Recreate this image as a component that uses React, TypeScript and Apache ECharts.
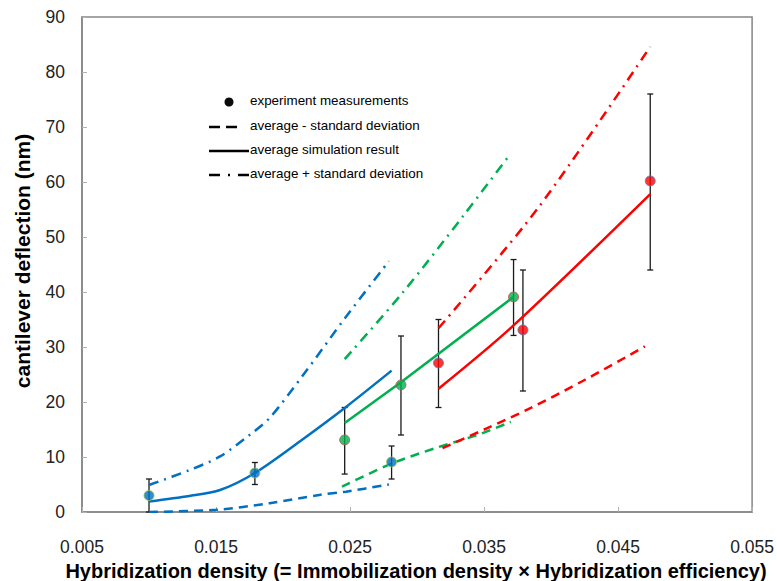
import React, { useEffect, useRef } from "react";
import * as echarts from "echarts";

// ---- data ----
const xTicks = [0.005, 0.015, 0.025, 0.035, 0.045, 0.055];

// experiment measurements: [x, mean, low, high]
const bluePoints = [
  [0.0100, 3.0, 0.0, 6.0],
  [0.0179, 7.1, 5.0, 9.0],
  [0.0281, 9.1, 6.0, 12.0],
];
const greenPoints = [
  [0.0246, 13.1, 6.9, 19.0],
  [0.0288, 23.1, 14.0, 32.0],
  [0.0372, 39.1, 32.1, 45.9],
];
const redPoints = [
  [0.0316, 27.1, 19.0, 35.0],
  [0.0379, 33.1, 22.0, 44.0],
  [0.0474, 60.2, 44.0, 76.0],
];

// simulation curves
const blueMinus = [[0.0100, 0.0], [0.0150, 0.4], [0.0190, 1.6], [0.0227, 3.1], [0.0247, 3.7], [0.0279, 5.0]];
const blueMean = [[0.0100, 1.9], [0.0130, 2.9], [0.0153, 4.0], [0.0179, 7.1], [0.0214, 13.1], [0.0247, 19.1], [0.0281, 25.7]];
const bluePlus = [[0.0100, 4.9], [0.0130, 7.6], [0.0153, 10.1], [0.0175, 14.0], [0.0190, 17.1], [0.0215, 24.9], [0.0247, 35.5], [0.0279, 45.6]];

const greenMinus = [[0.0244, 4.6], [0.0281, 8.8], [0.0316, 11.8], [0.0345, 14.0], [0.0370, 16.4]];
const greenMean = [[0.0246, 16.2], [0.0288, 23.6], [0.0372, 39.1]];
const greenPlus = [[0.0246, 27.8], [0.0289, 39.8], [0.0335, 54.0], [0.0369, 64.9]];

const redMinus = [[0.0319, 11.6], [0.0352, 15.2], [0.0383, 18.7], [0.0425, 24.0], [0.0470, 30.1]];
const redMean = [[0.0316, 22.4], [0.0371, 33.7], [0.0474, 57.8]];
const redPlus = [[0.0316, 33.4], [0.0391, 55.5], [0.0474, 84.6]];

const BLUE = "#0070C0";
const GREEN = "#00B050";
const RED = "#FF0000";
const DASH = [9, 6];
const DASHDOT = [10, 6, 2, 6];

const NARROW = "'Liberation Sans Narrow', 'Liberation Sans', Arial, sans-serif";
const REG = "'Liberation Sans', Arial, sans-serif";

function lineSeries(data: number[][], color: string, type: any, smooth: number) {
  return {
    type: "line",
    data,
    showSymbol: false,
    symbol: "none",
    smooth,
    lineStyle: { color, width: 2.5, type, cap: "butt" },
    z: 3,
  };
}

function errSeries(points: number[][]) {
  return {
    type: "custom",
    data: points.map((p) => [p[0], p[2], p[3]]),
    z: 2,
    renderItem: (params: any, api: any) => {
      const x = api.value(0);
      const top = api.coord([x, api.value(2)]);
      const bot = api.coord([x, api.value(1)]);
      const w = 3;
      const st = { stroke: "#1a1a1a", lineWidth: 1.3 };
      return {
        type: "group",
        children: [
          { type: "line", shape: { x1: top[0], y1: top[1], x2: bot[0], y2: bot[1] }, style: st },
          { type: "line", shape: { x1: top[0] - w, y1: top[1], x2: top[0] + w, y2: top[1] }, style: st },
          { type: "line", shape: { x1: bot[0] - w, y1: bot[1], x2: bot[0] + w, y2: bot[1] }, style: st },
        ],
      };
    },
  };
}

function pointSeries(points: number[][], fill: string, border: string) {
  return {
    type: "scatter",
    data: points.map((p) => [p[0], p[1]]),
    symbol: "circle",
    symbolSize: 10,
    itemStyle: { color: fill, borderColor: border, borderWidth: 1 },
    z: 5,
  };
}

export default function App() {
  const ref = useRef<HTMLDivElement>(null);
  useEffect(() => {
    document.body.style.margin = "0";
    const chart = echarts.init(ref.current!, null, { renderer: "svg" });
    const legendText = (y: number, text: string) => ({
      type: "text",
      left: 250,
      top: y - 8,
      style: { text, font: `13.4px ${NARROW}`, fill: "#000", textVerticalAlign: "top" },
    });
    chart.setOption({
      animation: false,
      backgroundColor: "#fff",
      grid: { left: 82, right: 23, top: 17, bottom: 69, show: true, borderColor: "#868686", borderWidth: 1.5, containLabel: false },
      xAxis: {
        type: "value",
        min: 0.005,
        max: 0.055,
        interval: 0.01,
        axisLine: { show: true, lineStyle: { color: "#868686", width: 1.5 } },
        axisTick: { show: true, inside: true, length: 5, lineStyle: { color: "#b0b0b0", width: 1 } },
        splitLine: { show: false },
        axisLabel: {
          margin: 26,
          fontSize: 17.5,
          fontFamily: REG,
          color: "#222",
          formatter: (v: number) => {
            const t = xTicks.find((k) => Math.abs(k - v) < 1e-6);
            return t !== undefined ? t.toFixed(3) : "";
          },
        },
      },
      yAxis: {
        type: "value",
        min: 0,
        max: 90,
        interval: 10,
        axisLine: { show: true, lineStyle: { color: "#868686", width: 1.5 } },
        axisTick: { show: true, inside: true, length: 5, lineStyle: { color: "#b0b0b0", width: 1 } },
        splitLine: { show: false },
        axisLabel: { margin: 17, fontSize: 17.5, fontFamily: REG, color: "#222" },
      },
      graphic: [
        {
          type: "text",
          x: 416,
          y: 571,
          style: {
            text: "Hybridization density (= Immobilization density \u00d7 Hybridization efficiency)",
            font: `bold 20px ${NARROW}`,
            fill: "#000",
            textAlign: "center",
            textVerticalAlign: "middle",
          },
        },
        {
          type: "text",
          x: 22,
          y: 261,
          rotation: Math.PI / 2,
          style: {
            text: "cantilever deflection (nm)",
            font: `bold 21px ${NARROW}`,
            fill: "#000",
            textAlign: "center",
            textVerticalAlign: "middle",
          },
        },
        // legend
        { type: "circle", shape: { cx: 229, cy: 102, r: 4.5 }, style: { fill: "#0b0b0b" } },
        legendText(102, "experiment measurements"),
        { type: "line", shape: { x1: 209, y1: 127, x2: 220, y2: 127 }, style: { stroke: "#000", lineWidth: 2.5 } },
        { type: "line", shape: { x1: 226, y1: 127, x2: 237, y2: 127 }, style: { stroke: "#000", lineWidth: 2.5 } },
        legendText(127, "average - standard deviation"),
        { type: "line", shape: { x1: 209, y1: 151, x2: 249, y2: 151 }, style: { stroke: "#000", lineWidth: 2.5 } },
        legendText(151, "average simulation result"),
        { type: "line", shape: { x1: 209, y1: 175, x2: 220, y2: 175 }, style: { stroke: "#000", lineWidth: 2.5 } },
        { type: "line", shape: { x1: 228, y1: 175, x2: 230, y2: 175 }, style: { stroke: "#000", lineWidth: 2.5 } },
        { type: "line", shape: { x1: 238, y1: 175, x2: 249, y2: 175 }, style: { stroke: "#000", lineWidth: 2.5 } },
        legendText(175, "average + standard deviation"),
      ],
      series: [
        errSeries(bluePoints),
        errSeries(greenPoints),
        errSeries(redPoints),
        lineSeries(blueMinus, BLUE, DASH, 0.3),
        lineSeries(blueMean, BLUE, "solid", 0.3),
        lineSeries(bluePlus, BLUE, DASHDOT, 0.3),
        lineSeries(greenMinus, GREEN, DASH, 0.3),
        lineSeries(greenMean, GREEN, "solid", 0),
        lineSeries(greenPlus, GREEN, DASHDOT, 0.3),
        lineSeries(redMinus, RED, DASH, 0.3),
        lineSeries(redMean, RED, "solid", 0.3),
        lineSeries(redPlus, RED, DASHDOT, 0.3),
        pointSeries(bluePoints, BLUE, "#9BBB59"),
        pointSeries(greenPoints, GREEN, "#C0504D"),
        pointSeries(redPoints, RED, "#4F81BD"),
      ],
    });
    return () => chart.dispose();
  }, []);
  return <div ref={ref} style={{ width: 777, height: 581 }} />;
}
